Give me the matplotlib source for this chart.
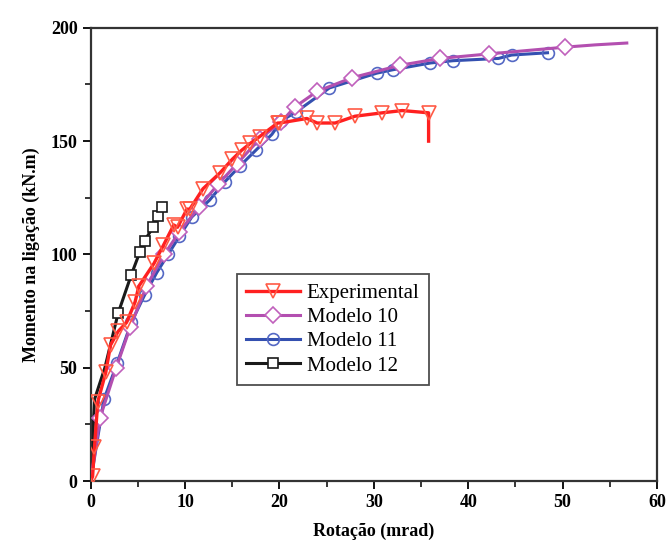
import matplotlib
matplotlib.use('Agg')
from matplotlib import pyplot as plt
from matplotlib.ticker import MultipleLocator

# Experimental curve (last point is the vertical drop at failure)
exp_x = [0.0, 0.2, 0.4, 0.75, 1.6, 2.1, 2.9, 3.8, 4.7, 5.1, 6.7, 7.7, 8.8, 9.2, 10.2, 10.5,
         11.9, 13.7, 15.0, 16.0, 16.9, 17.9, 19.8, 20.0, 22.9, 24.0, 25.9, 28.0, 30.9,
         33.0, 35.8, 35.8]
exp_y = [0, 2, 15, 35, 48, 60, 66, 70, 79, 86, 96, 104, 113, 112, 120, 120,
         129, 136, 142, 146, 149, 152, 158, 158, 160, 158, 158, 161, 162.5,
         163.5, 162.5, 150]

m10_x = [0.0, 1.0, 2.7, 4.2, 5.9, 7.8, 9.4, 11.5, 13.5, 15.5, 17.9, 20.2, 21.6, 24.0,
         27.7, 32.8, 37.0, 42.2, 50.3, 53.5, 56.8]
m10_y = [0, 28, 50, 68, 86, 100, 110, 121, 131, 140, 151, 158.5, 165, 172,
         178, 183.5, 186.5, 188.5, 191.5, 192.5, 193.3]

m11_x = [0.0, 1.4, 2.8, 4.3, 5.7, 7.0, 8.2, 9.4, 10.7, 12.6, 14.2, 15.8, 17.5, 19.2,
         20.2, 21.8, 25.3, 30.3, 32.0, 36.0, 38.4, 43.2, 44.6, 48.4]
m11_y = [0, 36, 52, 70, 82, 92, 100, 108, 116.5, 124, 132, 139, 146, 153,
         159, 163, 173.5, 180, 181.5, 184.5, 185.5, 186.5, 188, 189]

m12_x = [0.0, 0.4, 1.5, 2.9, 4.3, 5.2, 5.7, 6.6, 7.1, 7.6]
m12_y = [0, 36, 50, 74, 91, 101, 106, 112, 117, 121]

plt.rcParams['font.family'] = ['Liberation Serif', 'DejaVu Serif']

fig = plt.figure(figsize=(6.67, 5.46), dpi=100)
ax = fig.add_axes([0.136, 0.119, 0.849, 0.830])

ax.plot(m12_x, m12_y, color='#1a1a1a', lw=2.2, marker='s', ms=7, mfc='white',
        mec='#1a1a1a', mew=1.2, markevery=list(range(3, len(m12_x))), label='Modelo 12', zorder=2)
ax.plot(m11_x, m11_y, color='#3450b0', lw=2.2, marker='o', ms=8.5, mfc='none',
        mec='#5468c4', mew=1.2, markevery=list(range(1, len(m11_x))), label='Modelo 11', zorder=3)
ax.plot(m10_x, m10_y, color='#b34fb0', lw=2.2, marker='D', ms=8, mfc='white',
        mec='#c060bc', mew=1.2, markevery=list(range(1, len(m10_x) - 2)), label='Modelo 10', zorder=4)
ax.plot(exp_x, exp_y, color='#ff2020', lw=2.4, marker='v', ms=9.5, mfc='none',
        mec='#ff5a45', mew=1.2, markevery=list(range(1, len(exp_x) - 1)), label='Experimental', zorder=5)

ax.set_xlim(0, 60)
ax.set_ylim(0, 200)
ax.xaxis.set_major_locator(MultipleLocator(10))
ax.xaxis.set_minor_locator(MultipleLocator(5))
ax.yaxis.set_major_locator(MultipleLocator(50))
ax.yaxis.set_minor_locator(MultipleLocator(25))
ax.tick_params(which='major', direction='out', length=6, width=1.3, labelsize=13)
ax.tick_params(which='minor', direction='out', length=4, width=1.1)
for lab in ax.get_xticklabels() + ax.get_yticklabels():
    lab.set_fontweight('bold')
for sp in ax.spines.values():
    sp.set_linewidth(1.6)
    sp.set_color('#333333')

ax.set_xlabel('Rotação (mrad)', fontsize=13, fontweight='bold', labelpad=8)
ax.set_ylabel('Momento na ligação (kN.m)', fontsize=13, fontweight='bold', labelpad=8)

handles, labels = ax.get_legend_handles_labels()
order = [3, 2, 1, 0]
leg = ax.legend([handles[i] for i in order], [labels[i] for i in order],
                loc='lower left', bbox_to_anchor=(0.258, 0.212), borderaxespad=0,
                fontsize=15, frameon=True, fancybox=False, edgecolor='#222222',
                handlelength=2.6, borderpad=0.45, labelspacing=0.22, handletextpad=0.3)
leg.get_frame().set_linewidth(1.3)

plt.savefig('out.png', dpi=100)
